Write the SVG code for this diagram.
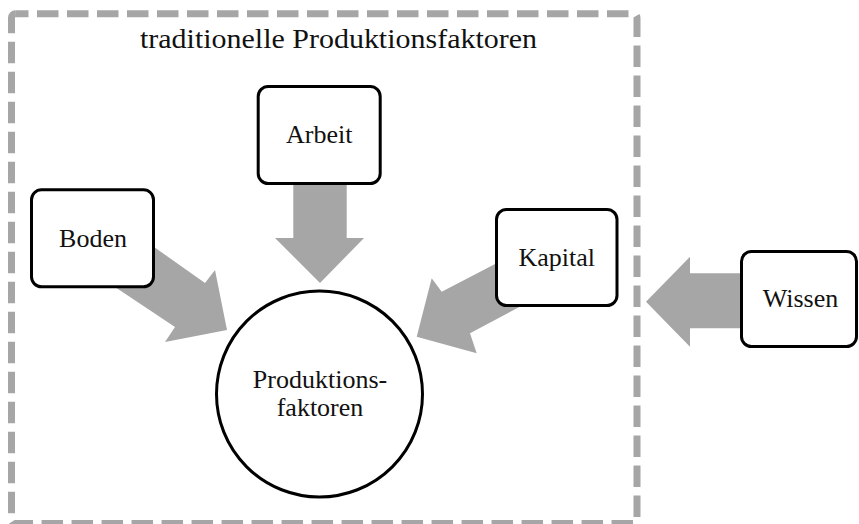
<svg xmlns="http://www.w3.org/2000/svg" width="859" height="524" viewBox="0 0 859 524">
  <style>
    .frame { fill: none; stroke: #a6a6a6; stroke-width: 7; stroke-dasharray: 21.5 8.5; stroke-dashoffset: 8.5; }
    .arrow { fill: #a6a6a6; stroke: none; }
    .box { fill: #ffffff; stroke: #000000; stroke-width: 3; }
    .lbl { font-family: "Liberation Serif", "Times New Roman", serif; font-size: 26px; fill: #111111; text-anchor: middle; }
    .title { font-family: "Liberation Serif", "Times New Roman", serif; font-size: 27px; fill: #111111; }
  </style>
  <rect width="859" height="524" fill="#ffffff"/>

  <!-- dashed boundary of the traditional factors -->
  <g id="traditionelle">
    <rect class="frame" x="11.5" y="13.7" width="625.5" height="509.8" rx="4"/>
    <text class="title" x="140" y="48" textLength="397" lengthAdjust="spacingAndGlyphs">traditionelle Produktionsfaktoren</text>
  </g>

  <!-- block arrows -->
  <g id="connectors">
    <polygon class="arrow" points="293.3,180 346.7,180 346.7,238 364,238 320,283 275,238 293.3,238"/>
    <polygon class="arrow" points="130,230 205,283 215,270 227,330 165,342 175,327 100,277"/>
    <polygon class="arrow" points="513,254.6 441.7,291.7 431.7,278.3 416.7,336.7 476.7,353.3 470,333.3 540,296"/>
    <polygon class="arrow" points="745,273.3 690,273.3 690,256.7 646,301.7 690,346.7 690,328.3 745,328.3"/>
  </g>

  <g id="arbeit">
    <rect class="box" x="258.2" y="86.5" width="122" height="97" rx="10"/>
    <text class="lbl" x="319.2" y="142.7">Arbeit</text>
  </g>

  <g id="boden">
    <rect class="box" x="31.5" y="189.8" width="122" height="97" rx="10"/>
    <text class="lbl" x="93" y="246.7">Boden</text>
  </g>

  <g id="kapital">
    <rect class="box" x="496.5" y="209.5" width="120.5" height="96" rx="10"/>
    <text class="lbl" x="556.7" y="265.7">Kapital</text>
  </g>

  <g id="wissen">
    <rect class="box" x="741.5" y="251.5" width="115" height="95" rx="10"/>
    <text class="lbl" x="800.5" y="306.7">Wissen</text>
  </g>

  <g id="produktionsfaktoren">
    <circle class="box" cx="319.5" cy="394" r="103"/>
    <text class="lbl" x="320" y="388.3">Produktions-</text>
    <text class="lbl" x="320" y="416">faktoren</text>
  </g>
</svg>
